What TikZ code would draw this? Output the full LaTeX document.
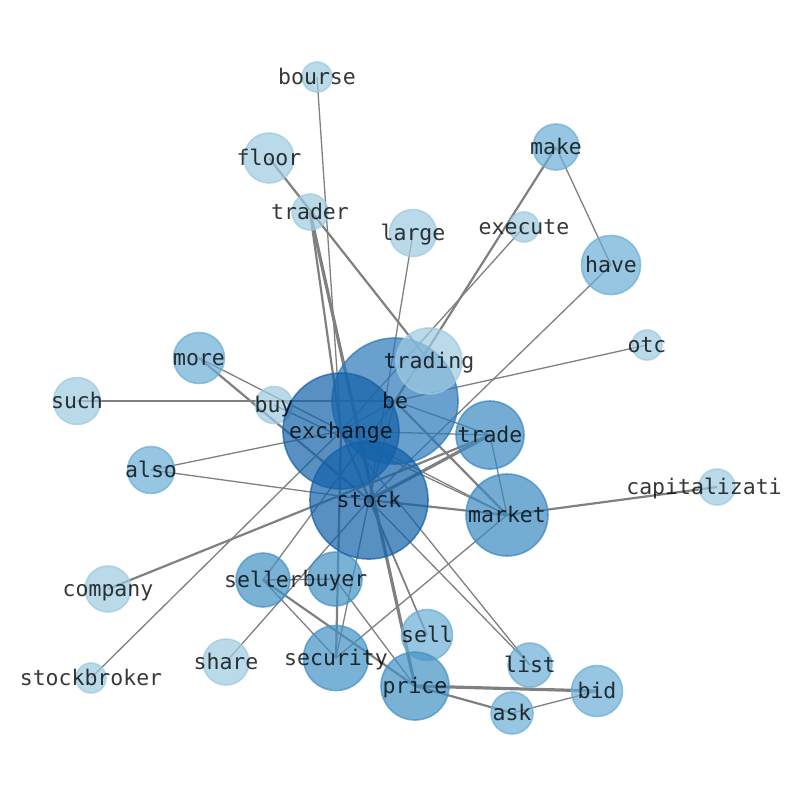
\documentclass[tikz,border=0pt]{standalone}
\usepackage{fontspec}
\setmonofont{DejaVu Sans Mono}
\definecolor{cA}{HTML}{1361A9}
\definecolor{cB}{HTML}{2A78B8}
\definecolor{cM}{HTML}{3A89C2}
\definecolor{cC}{HTML}{4292C6}
\definecolor{cD}{HTML}{6BAED6}
\definecolor{cE}{HTML}{9ECAE1}
\pgfdeclarelayer{bg}
\pgfdeclarelayer{edges}
\pgfsetlayers{bg,edges,main}
\tikzset{
  wn/.style={circle, minimum size=2*#1, inner sep=0pt, opacity=0.7, line width=1.6pt},
  lbl/.style={font=\ttfamily\fontsize{21.5}{24}\selectfont, text=black, text opacity=0.78,
              inner sep=0pt, text height=14pt, text depth=0pt, anchor=center},
  e1/.style={draw=gray, line width=1.3pt},
  e2/.style={draw=gray, line width=2.2pt},
  e3/.style={draw=gray, line width=3.2pt}
}
\begin{document}
\begin{tikzpicture}[x=1pt,y=-1pt]
\begin{pgfonlayer}{bg}
\fill[white] (0,0) rectangle (794,790);
\end{pgfonlayer}
\useasboundingbox (0,0) rectangle (794,790);
% nodes (circles)
\node[wn=15,fill=cE,draw=cE] (bourse) at (317,77) {};
\node[wn=25,fill=cE,draw=cE] (floor) at (269,158) {};
\node[wn=18,fill=cE,draw=cE] (trader) at (310,212) {};
\node[wn=23.5,fill=cE,draw=cE] (large) at (413,233) {};
\node[wn=15,fill=cE,draw=cE] (execute) at (524,227) {};
\node[wn=23,fill=cD,draw=cD] (make) at (556,147) {};
\node[wn=29.5,fill=cD,draw=cD] (have) at (611,265) {};
\node[wn=15,fill=cE,draw=cE] (otc) at (647,345) {};
\node[wn=25.5,fill=cD,draw=cD] (more) at (199,358) {};
\node[wn=23.5,fill=cE,draw=cE] (such) at (77,401) {};
\node[wn=18.5,fill=cE,draw=cE] (buy) at (274,405) {};
\node[wn=23.5,fill=cD,draw=cD] (also) at (151,470) {};
\node[wn=34,fill=cM,draw=cM] (trade) at (490,435) {};
\node[wn=41,fill=cM,draw=cM] (market) at (507,515) {};
\node[wn=18,fill=cE,draw=cE] (capitalizati) at (717,487) {};
\node[wn=23,fill=cE,draw=cE] (company) at (108,589) {};
\node[wn=27,fill=cC,draw=cC] (seller) at (263,580) {};
\node[wn=27,fill=cC,draw=cC] (buyer) at (335,579) {};
\node[wn=25.5,fill=cD,draw=cD] (sell) at (427,635) {};
\node[wn=32.5,fill=cC,draw=cC] (security) at (336,658) {};
\node[wn=23,fill=cE,draw=cE] (share) at (226,662) {};
\node[wn=15,fill=cE,draw=cE] (stockbroker) at (91,678) {};
\node[wn=22,fill=cD,draw=cD] (list) at (530,665) {};
\node[wn=34,fill=cC,draw=cC] (price) at (415,686) {};
\node[wn=25.5,fill=cD,draw=cD] (bid) at (597,691) {};
\node[wn=21,fill=cD,draw=cD] (ask) at (512,713) {};
\node[wn=63,fill=cB,draw=cB] (be) at (395,401) {};
\node[wn=33,fill=cE,draw=cE] (trading) at (429,361) {};
\node[wn=58,fill=cA,draw=cA] (exchange) at (341,431) {};
\node[wn=59,fill=cA,draw=cA] (stock) at (369,500) {};
% edges
\begin{pgfonlayer}{edges}
\draw[e1] (bourse.center) -- (exchange.center);
\draw[e2] (floor.center) -- (trading.center);
\draw[e2] (trader.center) -- (exchange.center);
\draw[e3] (trader.center) -- (price.center);
\draw[e1] (large.center) -- (stock.center);
\draw[e1] (execute.center) -- (exchange.center);
\draw[e2] (make.center) -- (be.center);
\draw[e1] (make.center) -- (have.center);
\draw[e1] (have.center) -- (stock.center);
\draw[e1] (otc.center) -- (be.center);
\draw[e1] (such.center) -- (be.center);
\draw[e1] (more.center) -- (market.center);
\draw[e2] (more.center) -- (stock.center);
\draw[e1] (buy.center) -- (market.center);
\draw[e1] (also.center) -- (exchange.center);
\draw[e1] (also.center) -- (stock.center);
\draw[e1] (stockbroker.center) -- (exchange.center);
\draw[e1] (share.center) -- (stock.center);
\draw[e2] (company.center) -- (trade.center);
\draw[e1] (seller.center) -- (buyer.center);
\draw[e1] (seller.center) -- (security.center);
\draw[e2] (seller.center) -- (price.center);
\draw[e1] (seller.center) -- (be.center);
\draw[e1] (buyer.center) -- (price.center);
\draw[e2] (security.center) -- (exchange.center);
\draw[e1] (security.center) -- (stock.center);
\draw[e1] (security.center) -- (market.center);
\draw[e1] (sell.center) -- (stock.center);
\draw[e1] (sell.center) -- (exchange.center);
\draw[e1] (list.center) -- (stock.center);
\draw[e1] (list.center) -- (exchange.center);
\draw[e3] (price.center) -- (bid.center);
\draw[e2] (price.center) -- (ask.center);
\draw[e1] (ask.center) -- (bid.center);
\draw[e2] (stock.center) -- (market.center);
\draw[e1] (trade.center) -- (market.center);
\draw[e2] (market.center) -- (capitalizati.center);
\draw[e1] (be.center) -- (trade.center);
\draw[e2] (be.center) -- (market.center);
\draw[e1] (exchange.center) -- (trade.center);
\draw[e1] (be.center) -- (stock.center);
\draw[e1] (exchange.center) -- (stock.center);
\draw[e1] (be.center) -- (exchange.center);
\draw[e3] (stock.center) -- (trade.center);
\end{pgfonlayer}
% labels
\node[lbl] (t-bourse) at (bourse) {bourse};
\node[lbl] (t-floor) at (floor) {floor};
\node[lbl] (t-trader) at (trader) {trader};
\node[lbl] (t-large) at (large) {large};
\node[lbl] (t-execute) at (execute) {execute};
\node[lbl] (t-make) at (make) {make};
\node[lbl] (t-have) at (have) {have};
\node[lbl] (t-otc) at (otc) {otc};
\node[lbl] (t-trading) at (trading) {trading};
\node[lbl] (t-be) at (be) {be};
\node[lbl] (t-more) at (more) {more};
\node[lbl] (t-such) at (such) {such};
\node[lbl] (t-buy) at (buy) {buy};
\node[lbl] (t-exchange) at (exchange) {exchange};
\node[lbl] (t-trade) at (trade) {trade};
\node[lbl] (t-also) at (also) {also};
\node[lbl] (t-stock) at (stock) {stock};
\node[lbl] (t-market) at (market) {market};
\node[lbl] (t-capitalizati) at (704,487) {capitalizati};
\node[lbl] (t-company) at (company) {company};
\node[lbl] (t-seller) at (seller) {seller};
\node[lbl] (t-buyer) at (buyer) {buyer};
\node[lbl] (t-sell) at (sell) {sell};
\node[lbl] (t-security) at (security) {security};
\node[lbl] (t-share) at (share) {share};
\node[lbl] (t-stockbroker) at (stockbroker) {stockbroker};
\node[lbl] (t-list) at (list) {list};
\node[lbl] (t-price) at (price) {price};
\node[lbl] (t-bid) at (bid) {bid};
\node[lbl] (t-ask) at (ask) {ask};
\end{tikzpicture}
\end{document}
